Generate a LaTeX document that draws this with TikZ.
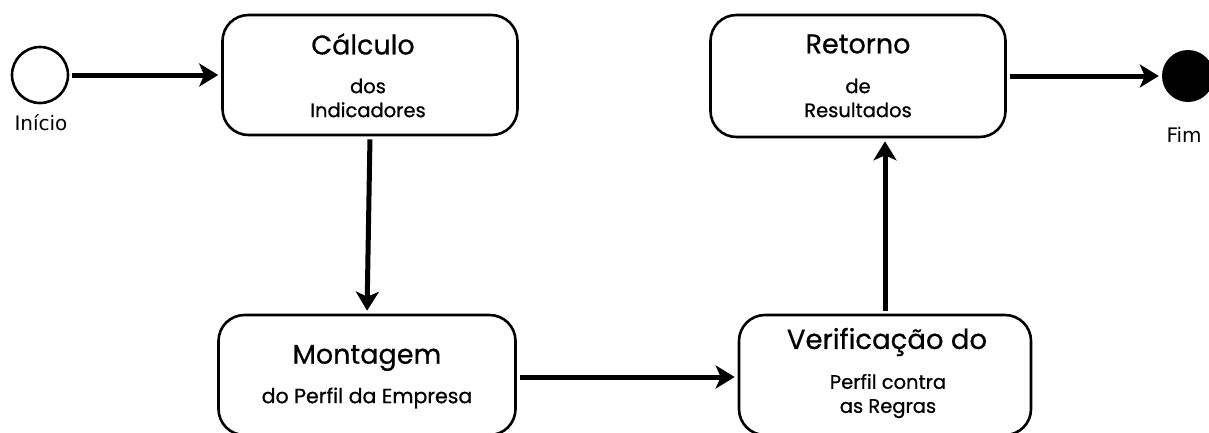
\documentclass[tikz,border=0pt]{standalone}
\usepackage{fontspec}
\setmainfont{Poppins}[FakeBold=0.7]
\newfontfamily\labelfont{DejaVu Sans}
\usetikzlibrary{arrows.meta}
\begin{document}
\begin{tikzpicture}[x=1pt,y=-1pt,
  statebox/.style={draw=black, line width=2.6pt, rounded corners=26pt, fill=white, inner sep=0pt},
  flow/.style={line width=5pt, -{Stealth[length=19pt,width=23pt,inset=5pt]}, shorten >=3pt, shorten <=3pt},
  big/.style={font=\fontsize{27}{30}\selectfont},
  small/.style={font=\fontsize{19.5}{24}\selectfont, align=center},
  evlabel/.style={font=\labelfont\fontsize{20}{24}\selectfont, anchor=base west}
]
\useasboundingbox (0,0) rectangle (1209,432);
\clip (0,0) rectangle (1209,432);

% start and end events
\node[draw, line width=2.6pt, circle, minimum size=56pt, inner sep=0pt] (start) at (40,75) {};
\node[evlabel] (startlbl) at (11,130) {Início};
\node[fill=black, circle, minimum size=52pt, inner sep=0pt] (finish) at (1188,76) {};
\node[evlabel] (finishlbl) at (1163,142) {Fim};

% activity boxes
\node[statebox, minimum width=295pt, minimum height=120pt] (calc) at (370,75) {};
\node[statebox, minimum width=297pt, minimum height=120pt] (mont) at (367,375) {};
\node[statebox, minimum width=292pt, minimum height=120pt] (verif) at (885,375) {};
\node[statebox, minimum width=295pt, minimum height=122pt] (ret) at (858,76) {};

% box texts
\node[big] (calcT) at (363,44) {Cálculo};
\node[small] (calcS) at (368,98) {dos\\Indicadores};
\node[big] (montT) at (367,358) {Montagem};
\node[small, font=\fontsize{20.5}{24}\selectfont] (montS) at (367,398) {do Perfil da Empresa};
\node[big, font=\fontsize{27.5}{30}\selectfont] (verifT) at (887,342) {Verificação do};
\node[small] (verifS) at (888,396) {Perfil contra\\as Regras};
\node[big] (retT) at (858,44) {Retorno};
\node[small] (retS) at (858,98) {de\\Resultados};

% transitions
\draw[flow] (start.east) -- (calc.west |- start.east);
\draw[flow] (calc.south) -- (mont.north);
\draw[flow] (mont.east |- 0,377) -- (verif.west |- 0,377);
\draw[flow] (verif.north) -- (verif.north |- ret.south);
\draw[flow] (ret.east |- finish.west) -- (finish.west);
\end{tikzpicture}
\end{document}
